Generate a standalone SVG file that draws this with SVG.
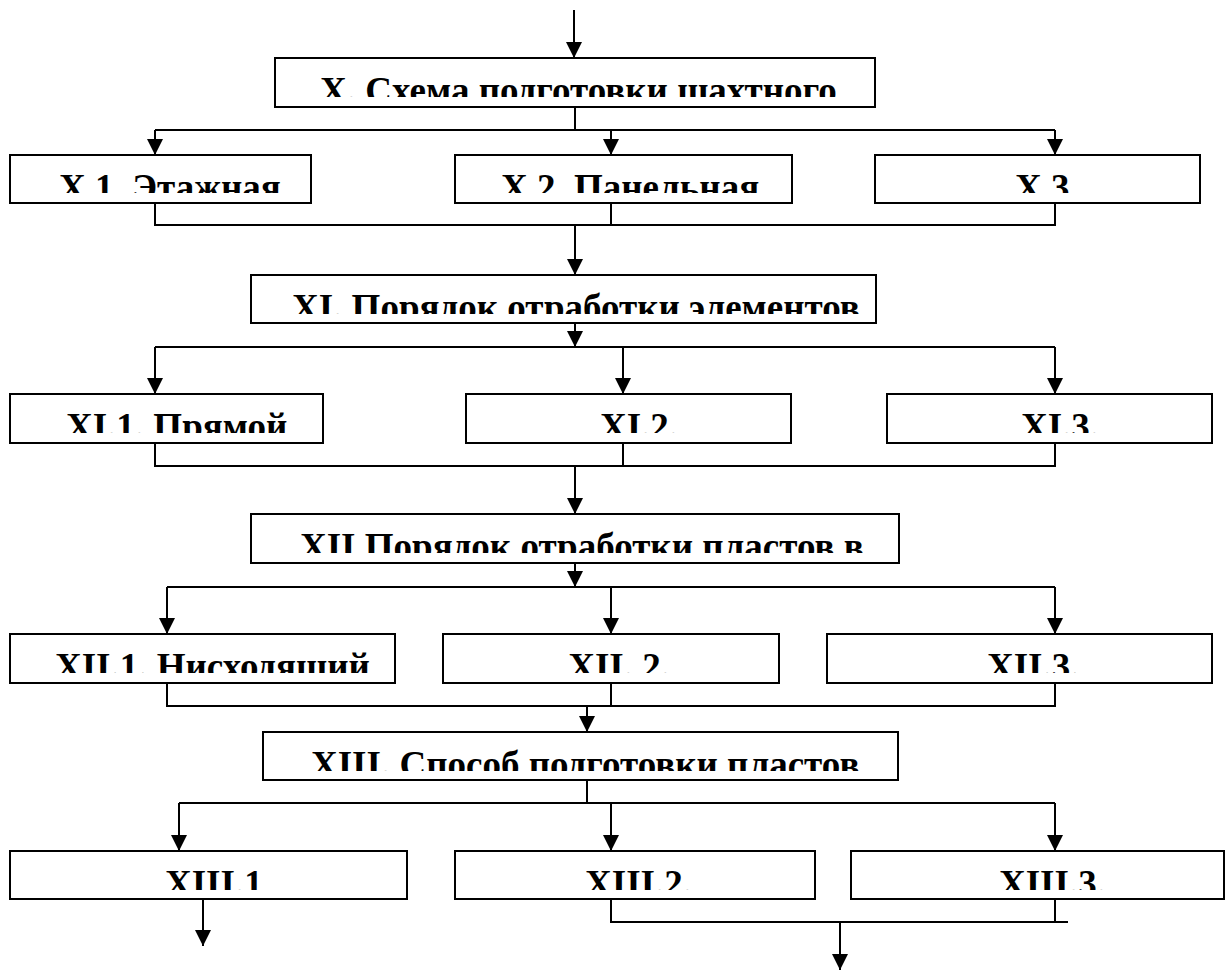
<svg xmlns="http://www.w3.org/2000/svg" width="1232" height="971" viewBox="0 0 1232 971">
<style>
.box{fill:#fff;stroke:#000;stroke-width:2}
.t{font-family:"Liberation Serif","Times New Roman",serif;font-weight:bold;font-size:37px;fill:#000}
.c{fill:none;stroke:#000;stroke-width:2}
.a{fill:none;stroke:#000;stroke-width:2;marker-end:url(#ah)}
</style>
<defs>
<marker id="ah" viewBox="0 0 16 16" markerWidth="16" markerHeight="16" markerUnits="userSpaceOnUse" refX="16" refY="8" orient="auto"><path d="M0,0 L16,8 L0,16 z" fill="#000"/></marker>
<clipPath id="cX"><rect x="275" y="59" width="599" height="38"/></clipPath>
<clipPath id="cX1"><rect x="11" y="156" width="299" height="37"/></clipPath>
<clipPath id="cX2"><rect x="455" y="156" width="336" height="37"/></clipPath>
<clipPath id="cX3"><rect x="876" y="156" width="323" height="37"/></clipPath>
<clipPath id="cXI"><rect x="251" y="276" width="624" height="38"/></clipPath>
<clipPath id="cXI1"><rect x="11" y="395" width="311" height="38"/></clipPath>
<clipPath id="cXI2"><rect x="467" y="395" width="323" height="38"/></clipPath>
<clipPath id="cXI3"><rect x="888" y="395" width="323" height="38"/></clipPath>
<clipPath id="cXII"><rect x="252" y="515" width="646" height="38"/></clipPath>
<clipPath id="cXII1"><rect x="11" y="635" width="383" height="38"/></clipPath>
<clipPath id="cXII2"><rect x="444" y="635" width="334" height="38"/></clipPath>
<clipPath id="cXII3"><rect x="828" y="635" width="383" height="38"/></clipPath>
<clipPath id="cXIII"><rect x="264" y="733" width="633" height="38"/></clipPath>
<clipPath id="cXIII1"><rect x="11" y="852" width="395" height="38"/></clipPath>
<clipPath id="cXIII2"><rect x="456" y="852" width="358" height="38"/></clipPath>
<clipPath id="cXIII3"><rect x="852" y="852" width="371" height="38"/></clipPath>
</defs>

<g id="connectors">
<line class="a" x1="574" y1="10" x2="574" y2="58"/>
<line class="c" x1="575" y1="107" x2="575" y2="130"/>
<line class="c" x1="155" y1="130" x2="1055" y2="130"/>
<line class="a" x1="155" y1="130" x2="155" y2="155"/>
<line class="a" x1="611" y1="130" x2="611" y2="155"/>
<line class="a" x1="1055" y1="130" x2="1055" y2="155"/>
<polyline class="c" points="155,203 155,225 1055,225 1055,203"/>
<line class="c" x1="611" y1="203" x2="611" y2="225"/>
<line class="a" x1="575" y1="225" x2="575" y2="275"/>
<line class="a" x1="575" y1="323" x2="575" y2="347"/>
<line class="c" x1="155" y1="347" x2="1055" y2="347"/>
<line class="a" x1="155" y1="347" x2="155" y2="394"/>
<line class="a" x1="623" y1="347" x2="623" y2="394"/>
<line class="a" x1="1055" y1="347" x2="1055" y2="394"/>
<polyline class="c" points="155,443 155,466 1055,466 1055,443"/>
<line class="c" x1="623" y1="443" x2="623" y2="466"/>
<line class="a" x1="575" y1="466" x2="575" y2="514"/>
<line class="a" x1="575" y1="563" x2="575" y2="587"/>
<line class="c" x1="167" y1="587" x2="1055" y2="587"/>
<line class="a" x1="167" y1="587" x2="167" y2="634"/>
<line class="a" x1="611" y1="587" x2="611" y2="634"/>
<line class="a" x1="1055" y1="587" x2="1055" y2="634"/>
<polyline class="c" points="167,683 167,706 1055,706 1055,683"/>
<line class="c" x1="611" y1="683" x2="611" y2="706"/>
<line class="a" x1="587" y1="706" x2="587" y2="732"/>
<line class="c" x1="587" y1="780" x2="587" y2="803"/>
<line class="c" x1="179" y1="803" x2="1055" y2="803"/>
<line class="a" x1="179" y1="803" x2="179" y2="851"/>
<line class="a" x1="611" y1="803" x2="611" y2="851"/>
<line class="a" x1="1055" y1="803" x2="1055" y2="851"/>
<line class="a" x1="203" y1="899" x2="203" y2="946"/>
<polyline class="c" points="611,899 611,922 1068,922"/>
<line class="c" x1="1055" y1="899" x2="1055" y2="922"/>
<line class="a" x1="840" y1="922" x2="840" y2="970"/>
</g>

<g id="nX"><rect class="box" x="275" y="58" width="600" height="49"/><text class="t" x="320" y="102.5" clip-path="url(#cX)">X. Схема подготовки шахтного</text></g>
<g id="nX1"><rect class="box" x="10" y="155" width="301" height="48"/><text class="t" x="59" y="199.5" clip-path="url(#cX1)">X.1. Этажная</text></g>
<g id="nX2"><rect class="box" x="455" y="155" width="337" height="48"/><text class="t" x="501" y="199.5" clip-path="url(#cX2)">X.2. Панельная</text></g>
<g id="nX3"><rect class="box" x="875" y="155" width="325" height="48"/><text class="t" x="1015" y="199.5" clip-path="url(#cX3)">X.3.</text></g>
<g id="nXI"><rect class="box" x="251" y="275" width="625" height="48"/><text class="t" x="292" y="319.5" clip-path="url(#cXI)">XI. Порядок отработки элементов</text></g>
<g id="nXI1"><rect class="box" x="10" y="394" width="313" height="49"/><text class="t" x="66" y="438.5" clip-path="url(#cXI1)">XI.1. Прямой</text></g>
<g id="nXI2"><rect class="box" x="466" y="394" width="325" height="49"/><text class="t" x="600" y="438.5" clip-path="url(#cXI2)">XI.2.</text></g>
<g id="nXI3"><rect class="box" x="887" y="394" width="325" height="49"/><text class="t" x="1021" y="438.5" clip-path="url(#cXI3)">XI.3.</text></g>
<g id="nXII"><rect class="box" x="251" y="514" width="648" height="49"/><text class="t" x="300" y="558.5" clip-path="url(#cXII)">XII Порядок отработки пластов в</text></g>
<g id="nXII1"><rect class="box" x="10" y="634" width="385" height="49"/><text class="t" x="55" y="678.5" clip-path="url(#cXII1)">XII.1. Нисходящий</text></g>
<g id="nXII2"><rect class="box" x="443" y="634" width="336" height="49"/><text class="t" x="670" y="678.5" text-anchor="end" clip-path="url(#cXII2)">XII. 2.</text></g>
<g id="nXII3"><rect class="box" x="827" y="634" width="385" height="49"/><text class="t" x="987" y="678.5" clip-path="url(#cXII3)">XII.3.</text></g>
<g id="nXIII"><rect class="box" x="263" y="732" width="635" height="48"/><text class="t" x="311" y="776.5" clip-path="url(#cXIII)">XIII. Способ подготовки пластов</text></g>
<g id="nXIII1"><rect class="box" x="10" y="851" width="397" height="48"/><text class="t" x="165" y="895.5" clip-path="url(#cXIII1)">XIII.1</text></g>
<g id="nXIII2"><rect class="box" x="455" y="851" width="360" height="48"/><text class="t" x="692" y="895.5" text-anchor="end" clip-path="url(#cXIII2)">XIII.2.</text></g>
<g id="nXIII3"><rect class="box" x="851" y="851" width="373" height="48"/><text class="t" x="999" y="895.5" clip-path="url(#cXIII3)">XIII.3.</text></g>
</svg>
